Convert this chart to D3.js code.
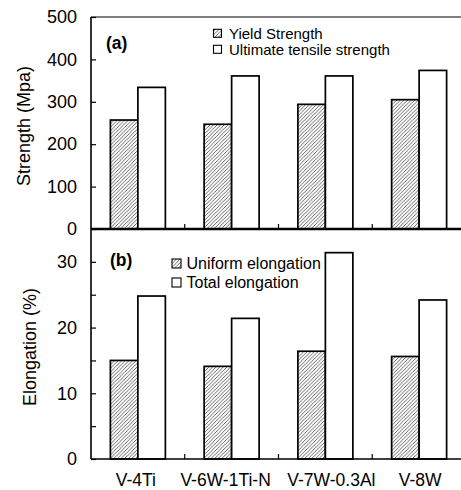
<!DOCTYPE html>
<html><head><meta charset="utf-8">
<script src="https://cdn.jsdelivr.net/npm/d3@7/dist/d3.min.js"></script>
<style>
html,body{margin:0;padding:0;background:#fff;overflow:hidden}
text{font-family:"Liberation Sans",Arial,sans-serif;fill:#000}
</style></head>
<body><svg id="c" width="461" height="490"></svg>
<script>
const categories = ["V-4Ti","V-6W-1Ti-N","V-7W-0.3Al","V-8W"];
const strengthSeries = ["Yield Strength","Ultimate tensile strength"];
const yieldStrength = [257, 247, 294, 305];
const ultimateStrength = [334, 361, 361, 374];
const elongSeries = ["Uniform elongation","Total elongation"];
const uniformElong = [15.0, 14.1, 16.4, 15.6];
const totalElong = [24.8, 21.4, 31.4, 24.2];
const strengthTicks = [0,100,200,300,400,500];
const elongTicks = [0,10,20,30];
const elongMinor = [5,15,25];

const svg = d3.select("#c");
const defs = svg.append("defs");
const pat = defs.append("pattern").attr("id","hatch").attr("patternUnits","userSpaceOnUse")
  .attr("width",3.6).attr("height",3.6);
pat.append("rect").attr("width",3.6).attr("height",3.6).attr("fill","#fff");
pat.append("path").attr("d","M-1,1 L1,-1 M0,3.6 L3.6,0 M2.6,4.6 L4.6,2.6").attr("stroke","#555").attr("stroke-width",0.9);

const L = 91, R = 466, TA = 17, BA = 229, BB = 459;
const x0 = d3.scaleBand().domain(categories).range([L, R]).padding(0);
const x1 = d3.scaleBand().domain([0,1]).range([0, x0.bandwidth()]).paddingInner(0).paddingOuter(0.705);
const yA = d3.scaleLinear().domain([0,500]).range([BA, TA]);
const yB = d3.scaleLinear().domain([0,35]).range([BB, BA]);

function bars(g, y, s1, s2){
  categories.forEach((c,i)=>{
    [s1[i], s2[i]].forEach((v,j)=>{
      g.append("rect").attr("x", x0(c)+x1(j)).attr("y", y(v))
        .attr("width", x1.bandwidth()).attr("height", y(0)-y(v))
        .attr("fill", j===0 ? "url(#hatch)" : "#fff")
        .attr("stroke","#000").attr("stroke-width",1.7);
    });
  });
}
const gA = svg.append("g"), gB = svg.append("g");
bars(gA, yA, yieldStrength, ultimateStrength);
bars(gB, yB, uniformElong, totalElong);

// top border
svg.append("line").attr("x1",L).attr("x2",R).attr("y1",TA).attr("y2",TA).attr("stroke","#000").attr("stroke-width",1.2);

// y axes
const axA = d3.axisLeft(yA).tickValues(strengthTicks).tickSize(-5).tickPadding(14).tickFormat(d3.format("d"));
const gax = svg.append("g").attr("transform",`translate(${L},0)`).call(axA);
const axB = d3.axisLeft(yB).tickValues(elongTicks).tickSize(-5).tickPadding(14).tickFormat(d3.format("d"));
const gbx = svg.append("g").attr("transform",`translate(${L},0)`).call(axB);
const axBm = d3.axisLeft(yB).tickValues(elongMinor).tickSize(-5).tickFormat("");
const gbm = svg.append("g").attr("transform",`translate(${L},0)`).call(axBm);
[gax,gbx,gbm].forEach(g=>{
  g.select(".domain").remove();
  g.selectAll(".tick line").attr("stroke","#000").attr("stroke-width",1.2);
  g.selectAll(".tick text").attr("font-size",18).attr("font-family","Liberation Sans, Arial, sans-serif");
});
svg.append("line").attr("x1",L).attr("x2",L).attr("y1",TA).attr("y2",BB).attr("stroke","#000").attr("stroke-width",1.6);

// x axes with boundary ticks
const bounds = categories.slice(1).map(c=>x0(c));
function xAxis(y, w){
  svg.append("line").attr("x1",L).attr("x2",R).attr("y1",y).attr("y2",y).attr("stroke","#000").attr("stroke-width",w);
  bounds.forEach(b=>svg.append("line").attr("x1",b).attr("x2",b).attr("y1",y).attr("y2",y-5).attr("stroke","#000").attr("stroke-width",1.2));
}
xAxis(BA, 2.4);
xAxis(BB, 1.6);

// category labels (small nudges to mimic the original placement)
const labelNudge = [-2, -6, 6, 1];
categories.forEach((c,i)=>{
  svg.append("text").attr("x", x0(c)+x0.bandwidth()/2 + labelNudge[i]).attr("y", 486)
    .attr("text-anchor","middle").attr("font-size",17.5).text(c);
});

// y titles
svg.append("text").attr("transform",`translate(29.5,${(TA+BA)/2+3}) rotate(-90)`)
  .attr("text-anchor","middle").attr("font-size",18).text("Strength (Mpa)");
svg.append("text").attr("transform",`translate(36,${(BA+BB)/2+3}) rotate(-90)`)
  .attr("text-anchor","middle").attr("font-size",18).text("Elongation (%)");

// panel labels
svg.append("text").attr("x",106).attr("y",48.5).attr("font-size",17.5).attr("font-weight","bold").text("(a)");
svg.append("text").attr("x",110).attr("y",266).attr("font-size",17.5).attr("font-weight","bold").text("(b)");

// legends
function legend(x, tx, ys, names, size, fs){
  names.forEach((n,i)=>{
    svg.append("rect").attr("x",x).attr("y",ys[i]-size/2).attr("width",size).attr("height",size)
      .attr("fill", i===0 ? "url(#hatch)" : "#fff").attr("stroke","#000").attr("stroke-width",1.1);
    svg.append("text").attr("x",tx).attr("y",ys[i]).attr("dy","0.36em").attr("font-size",fs).text(n);
  });
}
legend(213.5, 229, [33.3, 49.3], strengthSeries, 8, 15);
legend(172, 186.5, [263.5, 282.5], elongSeries, 9, 16);
</script></body></html>
